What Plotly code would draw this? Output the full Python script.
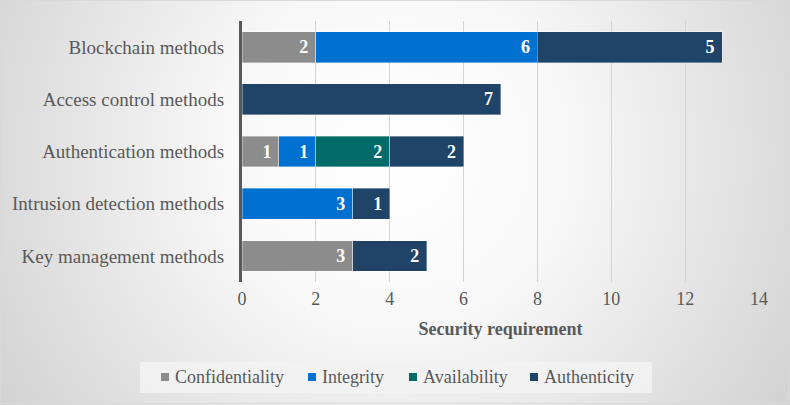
import base64
import plotly.graph_objects as go

categories = ["Blockchain methods", "Access control methods", "Authentication methods",
              "Intrusion detection methods", "Key management methods"]
confidentiality = [2, None, 1, None, 3]
integrity = [6, None, 1, 3, None]
availability = [None, None, 2, None, None]
authenticity = [5, 7, 2, 1, 2]
x_ticks = [0, 2, 4, 6, 8, 10, 12, 14]
series_names = ["Confidentiality", "Integrity", "Availability", "Authenticity"]
series_values = [confidentiality, integrity, availability, authenticity]
series_colors = ["#8c8c8c", "#0071d1", "#006b68", "#1f4468"]

FONT = "Liberation Serif"
TXT = "#595959"
W, H = 790, 405
L, R, T, B = 242, 31, 21, 123
PW, PH = W - L - R, H - T - B


def px(x):
    return (x - L) / PW


def py(y):
    return (H - B - y) / PH


fig = go.Figure()
for name, vals, color in zip(series_names, series_values, series_colors):
    fig.add_trace(go.Bar(
        y=categories, x=vals, name=name, orientation="h", showlegend=False,
        marker=dict(color=color, line=dict(color="rgba(255,255,255,0.6)", width=0.6)),
        text=[f"{v}\u00a0" if v else "" for v in vals],
        textposition="inside", insidetextanchor="end",
        textfont=dict(family=FONT, size=18, color="white", weight="bold"),
    ))

svg = ('<svg xmlns="http://www.w3.org/2000/svg" width="790" height="405">'
       '<defs><radialGradient id="g" cx="0.5" cy="0.38" r="0.62" '
       'gradientTransform="translate(0.5,0.38) scale(1,1.95) translate(-0.5,-0.38)">'
       '<stop offset="0" stop-color="#ffffff"/><stop offset="0.35" stop-color="#f8f8f8"/>'
       '<stop offset="1" stop-color="#cfcfcf"/></radialGradient></defs>'
       '<rect width="790" height="405" fill="url(#g)"/></svg>')
src = "data:image/svg+xml;base64," + base64.b64encode(svg.encode()).decode()

shapes = [
    dict(type="rect", xref="paper", yref="paper", x0=px(0.5), x1=px(W - 1.5),
         y0=py(H - 1.5), y1=py(0.5), line=dict(color="#d9d9d9", width=1)),
    dict(type="rect", xref="paper", yref="paper", x0=px(140), x1=px(652),
         y0=py(393), y1=py(362), line=dict(width=0), fillcolor="rgba(242,242,242,0.9)",
         layer="below"),
]
annotations = []
sq_x = [161, 308, 409, 530]
for name, color, sx in zip(series_names, series_colors, sq_x):
    shapes.append(dict(type="rect", xref="paper", yref="paper", x0=px(sx), x1=px(sx + 8),
                       y0=py(381), y1=py(373), line=dict(width=0), fillcolor=color))
    annotations.append(dict(text=name, xref="paper", yref="paper", x=px(sx + 12), y=py(377),
                            xanchor="left", yanchor="middle", showarrow=False,
                            font=dict(family=FONT, size=18, color=TXT)))

fig.update_layout(
    width=W, height=H,
    margin=dict(l=L, r=R, t=T, b=B),
    barmode="stack", bargap=0.41, showlegend=False,
    paper_bgcolor="rgba(0,0,0,0)", plot_bgcolor="rgba(0,0,0,0)",
    font=dict(family=FONT, size=18, color=TXT),
    images=[dict(source=src, xref="paper", yref="paper", x=px(0), y=py(0),
                 sizex=W / PW, sizey=H / PH, xanchor="left", yanchor="top",
                 sizing="stretch", layer="below")],
    xaxis=dict(range=[0, 14], tickvals=x_ticks, showgrid=True, gridcolor="#d4d4d4",
               gridwidth=1, zeroline=False, showline=False,
               tickfont=dict(family=FONT, size=18, color=TXT),
               ticklabelstandoff=4,
               title=dict(text="Security requirement", standoff=14,
                          font=dict(family=FONT, size=18, color=TXT, weight="bold"))),
    yaxis=dict(categoryorder="array", categoryarray=categories, autorange="reversed",
               showline=True, linecolor=TXT, linewidth=3, showgrid=False,
               tickfont=dict(family=FONT, size=19, color=TXT),
               ticklabelstandoff=11),
    shapes=shapes,
    annotations=annotations,
)

fig.write_html("out.html", config={"displayModeBar": False},
               post_script="document.body.style.margin='0';")
